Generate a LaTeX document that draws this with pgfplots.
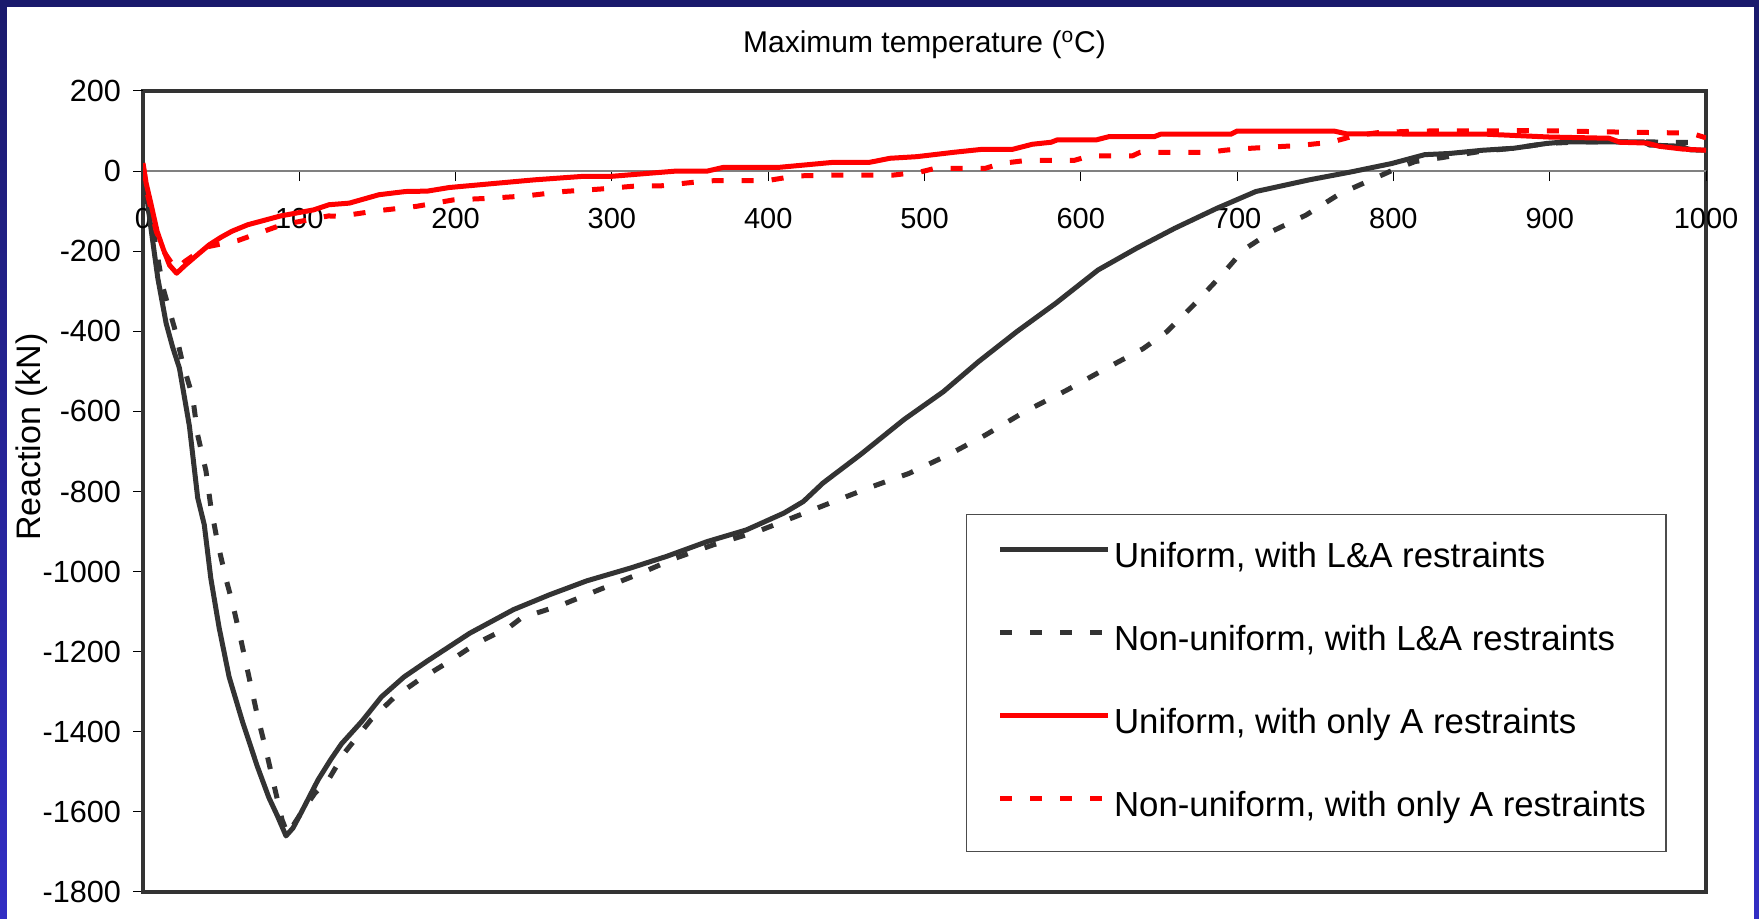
\documentclass[border=0pt]{standalone}
\usepackage{fontspec}
\setmainfont{Liberation Sans}
\usepackage{pgfplots}
\pgfplotsset{compat=1.18}

\definecolor{framegray}{RGB}{51,51,51}
\definecolor{curvegray}{RGB}{51,51,51}
\definecolor{navytop}{RGB}{26,26,108}
\definecolor{bluebottom}{RGB}{50,46,196}

\begin{document}
\begin{tikzpicture}[x=1pt,y=1pt]
% slide background
\shade[top color=navytop, bottom color=bluebottom] (0,0) rectangle (879.5,459.5);
\fill[white] (3.65,0) rectangle (877,456.15);

\begin{axis}[
  at={(71.5pt,13.5pt)}, anchor=south west,
  scale only axis, width=781.5pt, height=400.5pt,
  xmin=0, xmax=1000, ymin=-1800, ymax=200,
  enlargelimits=false,
  axis x line=middle, axis y line=left,
  hide obscured x ticks=false, hide obscured y ticks=false,
  x axis line style={-, color=black!50, line width=0.75pt},
  y axis line style={-, color=framegray, line width=2.3pt},
  axis background/.style={fill=white, draw=framegray, line width=2.3pt},
  xtick={0,100,...,1000}, ytick={-1800,-1600,...,200},
  tick align=outside, major tick length=5pt,
  major tick style={black, line width=0.5pt},
  /pgf/number format/assume math mode=true,
  /pgf/number format/1000 sep={},
  xticklabel style={font=\fontsize{14.5}{16}\selectfont, anchor=center, yshift=-18.7pt, inner sep=0pt},
  yticklabel style={font=\fontsize{15.3}{17}\selectfont, anchor=east, xshift=-5.8pt, inner sep=0pt},
  title={Maximum temperature (\textsuperscript{o}C)},
  title style={font=\fontsize{15}{17}\selectfont, at={(axis description cs:0.5,1)}, anchor=center, yshift=17.1pt},
  ylabel={Reaction (kN)},
  ylabel style={font=\fontsize{17}{19}\selectfont, at={(axis description cs:-0.0714,0.568)}, anchor=center, rotate=0},
  legend cell align=left,
  legend image code/.code={\path (-5.5pt,4.5pt); \draw[#1] (0pt,4.5pt) -- (54pt,4.5pt);},
  legend style={at={(0.5266,0.4719)}, anchor=north west,
    draw=black!70, line width=0.6pt, fill=white,
    font=\fontsize{17.4}{20}\selectfont,
    inner xsep=10pt, inner ysep=13.5pt, row sep=24.5pt,
    nodes={inner sep=0pt, text height=13pt, text depth=4pt},
    /tikz/every odd column/.append style={column sep=1.7pt}},
]

% Uniform temperature, longitudinal and axial restraints
\addplot[color=curvegray, line width=2.5pt, line join=round] coordinates {
(0,0) (2,-50) (5,-140) (9.5,-268) (14.8,-380) (19,-440) (23.3,-492)
(29.7,-637) (35,-816) (39.2,-883) (43.4,-1017) (48.7,-1140) (55.1,-1263)
(63.6,-1374) (73.1,-1486) (80.5,-1564) (86,-1610) (91.5,-1660) (96,-1640)
(101.7,-1598) (112,-1520) (120,-1470) (127,-1430) (140,-1374) (152.5,-1313)
(167,-1263) (182,-1223) (209,-1154) (237,-1095) (260,-1058) (284,-1023)
(312,-991) (335,-962) (361,-925) (386,-896) (410,-854) (422.5,-825)
(435,-779) (459,-708) (487,-620) (512,-551) (534.5,-476) (559,-401)
(584,-330) (611,-247) (635.5,-193) (660,-143) (687,-93) (712,-51)
(746,-22) (773,-2) (799,19) (820,41) (836,44) (857,52) (877,57) (898,69)
(910,73) (960,73) (964,65) (984,62) (990,53) (1000,52)
};
\addlegendentry{Uniform, with L\&A restraints}

% Non-uniform temperature, longitudinal and axial restraints
\addplot[color=curvegray, line width=2.5pt, dash pattern=on 6pt off 9pt] coordinates {
(0,0) (3,-60) (7,-160) (12.7,-290) (20.1,-391) (25.4,-480) (31.8,-564)
(35,-659) (40.3,-749) (43.4,-838) (47.7,-927) (53,-1017) (57.2,-1078)
(62.5,-1168) (67.8,-1263) (73.1,-1358) (78.4,-1441) (83.7,-1531)
(89,-1620) (92.5,-1655) (100,-1610) (110,-1553) (118.6,-1520) (129,-1452)
(146,-1369) (161,-1313) (176,-1272) (194,-1229) (213.5,-1179) (235,-1137)
(242,-1116) (268,-1083) (292,-1045) (316,-1008) (341,-966) (365,-933)
(393,-900) (416,-865) (442,-825) (467,-787) (490,-755) (515,-709)
(539,-659) (564,-601) (591,-547) (616,-493) (640,-443) (655,-401)
(672,-335) (690,-260) (704,-197) (722,-151) (744,-110) (766,-56)
(788,-18) (800,3) (814,24) (830,33) (857,50) (877,57) (898,69)
(920,73) (960,73) (980,72) (1000,72)
};
\addlegendentry{Non-uniform, with L\&A restraints}

% Uniform temperature, axial restraint only
\addplot[color=red, line width=2.5pt, line join=round] coordinates {
(0,20) (2,-30) (5,-80) (9,-150) (13,-195) (17,-235) (21.5,-255) (27,-235)
(33.9,-212) (42.4,-184) (50,-165) (57,-150) (67,-134) (88,-112) (109,-97)
(119,-84) (132,-80) (151,-59) (168,-51) (182,-50) (196,-41) (250,-22)
(282,-13) (300,-13) (341,0) (361,0) (371,9) (406,9) (442,22) (465,22)
(478,32) (495,36) (519,47) (536,54) (556,54) (569,67) (581,72) (585,78)
(610,78) (618,86) (647,86) (651,92) (696,92) (700,100) (762,100)
(770,93) (860,92) (900,85) (938,82) (945,72) (962,70) (970,62)
(985,55) (1000,52)
};
\addlegendentry{Uniform, with only A restraints}

% Non-uniform temperature, axial restraint only
\addplot[color=red, line width=2.5pt, dash pattern=on 6pt off 9pt] coordinates {
(0,15) (3,-60) (8.5,-151) (14,-205) (21,-245) (27,-225) (40,-190)
(61,-173) (89,-134) (100,-126) (118.6,-112) (126,-113) (148,-100)
(175,-88) (198.5,-72) (221,-68) (245,-62) (269,-51) (292,-45) (316,-37)
(331,-37) (352,-28) (365,-24) (399,-24) (418,-12) (444,-10) (480,-10)
(497.5,-2) (507,7) (539,7) (549,19) (566,27) (596,27) (606,38) (633,38)
(638,47) (682,47) (692,52) (700,55) (740,64) (760,72) (775,88) (790,96)
(815,100) (894,101) (950,97) (990,95) (1000,83)
};
\addlegendentry{Non-uniform, with only A restraints}

\end{axis}
\pgfresetboundingbox
\useasboundingbox (0,0) rectangle (879.5,459.5);
\end{tikzpicture}
\end{document}
